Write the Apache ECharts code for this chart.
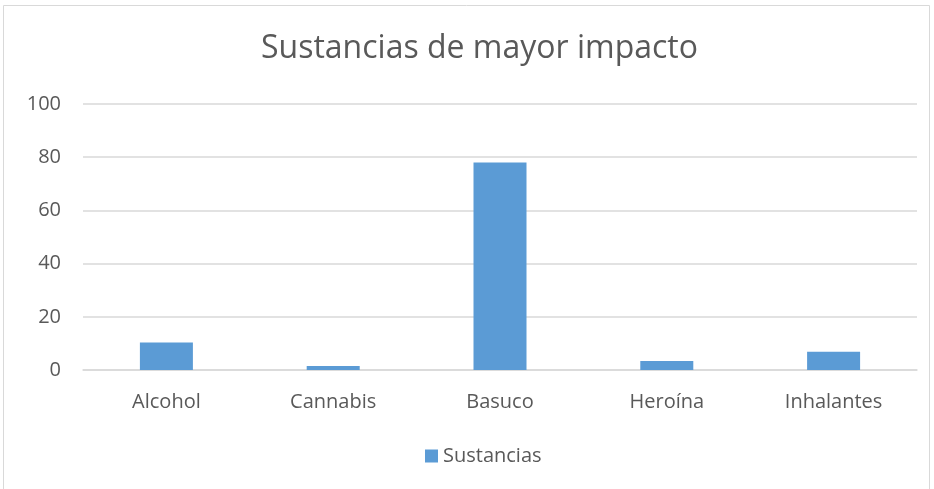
<!DOCTYPE html>
<html><head><meta charset="utf-8">
<script src="https://cdn.jsdelivr.net/npm/echarts@6/dist/echarts.min.js"></script>
<style>html,body{margin:0;padding:0;background:#fff}#c{width:934px;height:489px}</style>
</head><body><div id="c"></div>
<script>
const categories = ["Alcohol","Cannabis","Basuco","Heroína","Inhalantes"];
const values = [10.3, 1.5, 78, 3.4, 6.9];
const seriesName = "Sustancias";
const titleText = "Sustancias de mayor impacto";
const yTicks = [0, 20, 40, 60, 80, 100];

const chart = echarts.init(document.getElementById('c'));
const font = '"Open Sans", sans-serif';
chart.setOption({
  animation: false,
  textStyle: {fontFamily: font},
  graphic: [{type:'rect', shape:{x:3.5,y:5.5,width:926,height:500}, style:{fill:'none',stroke:'#d9d9d9',lineWidth:1}, silent:true}],
  title: {text: titleText, left: 256, top: 28, textStyle:{fontFamily:font, fontSize:32, fontWeight:'normal', color:'#595959'}},
  legend: {data:[seriesName], top: 441, left: 420, itemWidth:13, itemHeight:13, itemGap:6, icon:'rect',
    textStyle:{fontFamily:font, fontSize:20, color:'#595959'}},
  grid: {left:83, right:17, top:104, bottom:119},
  xAxis: {type:'category', data:categories,
    axisLine:{lineStyle:{color:'#d9d9d9', width:1.5}}, axisTick:{show:false},
    axisLabel:{fontFamily:font, fontSize:20, color:'#595959', margin:22}},
  yAxis: {type:'value', min:yTicks[0], max:yTicks[yTicks.length-1], interval:20,
    axisLine:{show:false}, axisTick:{show:false},
    splitLine:{lineStyle:{color:'#d9d9d9', width:1.5}},
    axisLabel:{fontFamily:font, fontSize:20, color:'#595959', margin:22}},
  series: [{name:seriesName, type:'bar', data:values, barWidth:53,
    itemStyle:{color:'#5b9bd5'}}]
});
</script></body></html>
